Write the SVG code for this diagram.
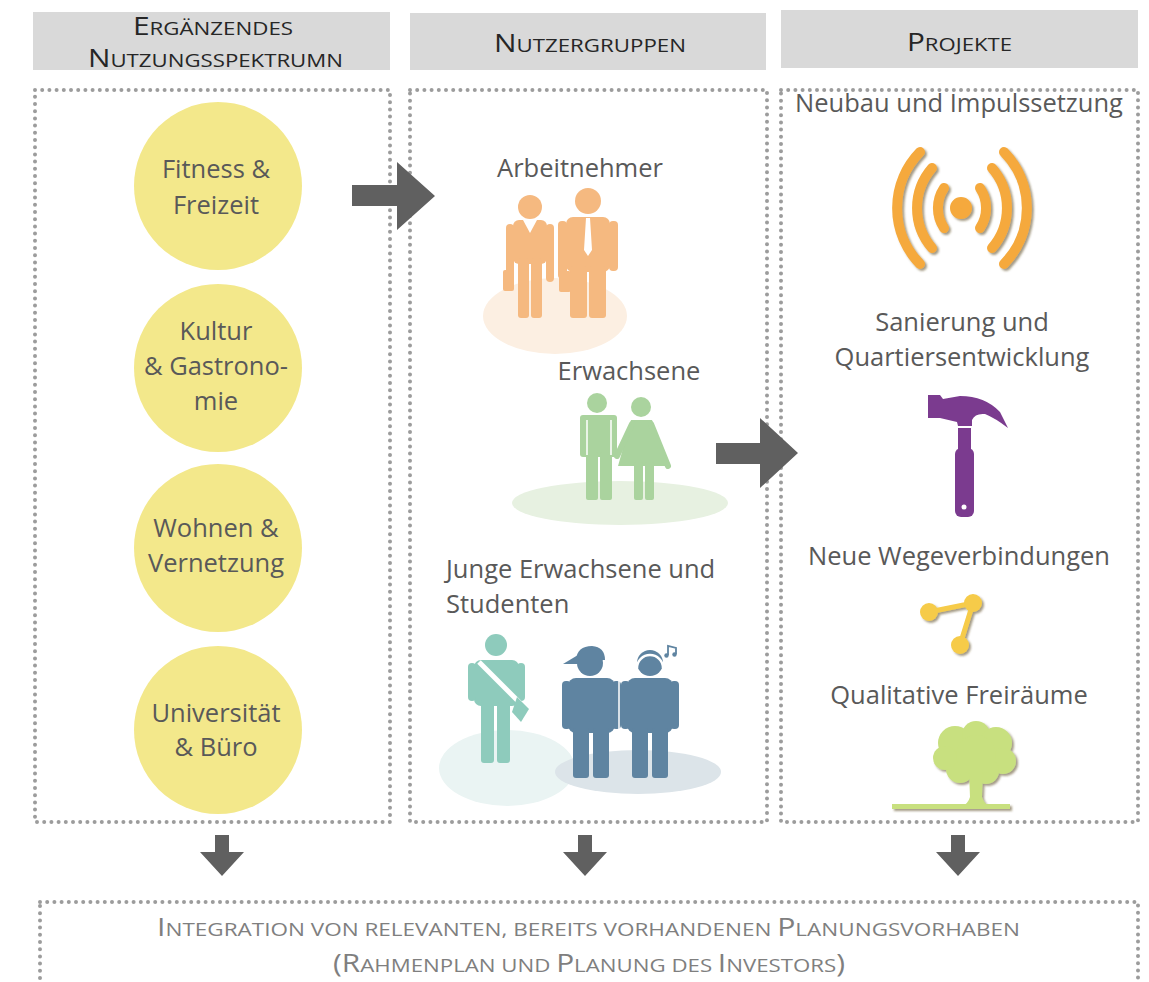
<svg xmlns="http://www.w3.org/2000/svg" width="1149" height="982" viewBox="0 0 1149 982">
  <defs>
    <style>
      .hdr { fill: #d9d9d9; }
      .dots { fill: none; stroke: #9c9c9c; stroke-width: 4; stroke-dasharray: 0 7.2; stroke-linecap: round; }
      .cap { font-family: "Open Sans", "Liberation Sans", sans-serif; fill: #262626; }
      .cap .b { font-size: 25.5px; }
      .cap .s { font-size: 19px; }
      .foot { font-family: "Open Sans", "Liberation Sans", sans-serif; fill: #7f7f7f; }
      .foot .b { font-size: 25.5px; }
      .foot .s { font-size: 19px; }
      .lbl { font-family: "Open Sans", "Liberation Sans", sans-serif; font-size: 25.5px; fill: #595959; }
      .mid { text-anchor: middle; }
      .circ { fill: #f3e88b; }
      .arrow { fill: #606060; }
    </style>
    <filter id="shadow" x="-10%" y="-10%" width="130%" height="130%">
      <feDropShadow dx="2" dy="2" stdDeviation="0.8" flood-color="#5a4a20" flood-opacity="0.55"/>
    </filter>
  </defs>

  <!-- column headers -->
  <g id="header-nutzungsspektrum">
    <rect class="hdr" x="33" y="12" width="357" height="58"/>
    <text class="cap" x="133" y="35" textLength="160" lengthAdjust="spacingAndGlyphs"><tspan class="b">E</tspan><tspan class="s">RGÄNZENDES</tspan></text>
    <text class="cap" x="88" y="67" textLength="255" lengthAdjust="spacingAndGlyphs"><tspan class="b">N</tspan><tspan class="s">UTZUNGSSPEKTRUMN</tspan></text>
  </g>
  <g id="header-nutzergruppen">
    <rect class="hdr" x="410" y="13" width="356" height="57"/>
    <text class="cap" x="494" y="52" textLength="192" lengthAdjust="spacingAndGlyphs"><tspan class="b">N</tspan><tspan class="s">UTZERGRUPPEN</tspan></text>
  </g>
  <g id="header-projekte">
    <rect class="hdr" x="781" y="10" width="357" height="58"/>
    <text class="cap" x="907" y="51" textLength="105" lengthAdjust="spacingAndGlyphs"><tspan class="b">P</tspan><tspan class="s">ROJEKTE</tspan></text>
  </g>

  <!-- dotted column frames -->
  <g id="frames">
    <rect class="dots" x="35" y="90" width="355" height="732"/>
    <rect class="dots" x="410" y="90" width="357" height="732"/>
    <rect class="dots" x="781" y="90" width="357" height="732"/>
  </g>

  <!-- column 1: usage circles -->
  <g id="fitness">
    <circle class="circ" cx="218" cy="186" r="84"/>
    <text class="lbl mid" x="216" y="178">Fitness &amp;</text>
    <text class="lbl mid" x="216" y="214">Freizeit</text>
  </g>
  <g id="kultur">
    <circle class="circ" cx="218" cy="368" r="84"/>
    <text class="lbl mid" x="216" y="340">Kultur</text>
    <text class="lbl mid" x="216" y="375">&amp; Gastrono-</text>
    <text class="lbl mid" x="216" y="410">mie</text>
  </g>
  <g id="wohnen">
    <circle class="circ" cx="218" cy="548" r="84"/>
    <text class="lbl mid" x="216" y="537">Wohnen &amp;</text>
    <text class="lbl mid" x="216" y="572">Vernetzung</text>
  </g>
  <g id="universitaet">
    <circle class="circ" cx="218" cy="730" r="84"/>
    <text class="lbl mid" x="216" y="722">Universität</text>
    <text class="lbl mid" x="216" y="756">&amp; Büro</text>
  </g>

  <!-- column 2: user groups -->
  <g id="arbeitnehmer">
    <text class="lbl mid" x="580" y="177">Arbeitnehmer</text>
    <ellipse cx="555" cy="316" rx="72" ry="38" fill="#fcefe2"/>
    <g fill="#f5b980">
      <!-- woman -->
      <circle cx="530" cy="207" r="12"/>
      <rect x="513" y="220" width="34" height="44" rx="6"/>
      <rect x="506" y="224" width="8" height="58" rx="4"/>
      <rect x="546" y="224" width="8" height="58" rx="4"/>
      <rect x="518" y="258" width="11" height="60" rx="3"/>
      <rect x="531" y="258" width="11" height="60" rx="3"/>
      <rect x="503" y="270" width="11" height="21" rx="2"/>
      <!-- man -->
      <circle cx="588" cy="201" r="13"/>
      <rect x="566" y="217" width="44" height="55" rx="7"/>
      <rect x="558" y="221" width="9" height="58" rx="4"/>
      <rect x="609" y="221" width="9" height="50" rx="4"/>
      <rect x="570" y="266" width="17" height="52" rx="3"/>
      <rect x="589" y="266" width="17" height="52" rx="3"/>
      <rect x="559" y="271" width="12" height="21" rx="2"/>
    </g>
    <polygon points="523,220 530,233 537,220" fill="#fff"/>
    <polygon points="586,218 590,218 592,250 588,256 584,250" fill="#fff"/>
  </g>

  <g id="erwachsene">
    <text class="lbl mid" x="629" y="380">Erwachsene</text>
    <ellipse cx="620" cy="503" rx="108" ry="22" fill="#e7f1e1"/>
    <g fill="#aad39e">
      <!-- man -->
      <circle cx="597" cy="403" r="10"/>
      <rect x="580" y="415" width="37" height="42" rx="3"/>
      <rect x="586" y="452" width="12" height="48" rx="2"/>
      <rect x="600" y="452" width="12" height="48" rx="2"/>
      <!-- woman -->
      <circle cx="641" cy="407" r="10"/>
      <polygon points="631,420 652,420 668,466 618,466"/>
      <path d="M632,424 L617,456" stroke="#aad39e" stroke-width="6" stroke-linecap="round"/>
      <path d="M651,424 L668,466" stroke="#aad39e" stroke-width="6" stroke-linecap="round"/>
      <rect x="634" y="462" width="9" height="38" rx="2"/>
      <rect x="645" y="462" width="9" height="38" rx="2"/>
    </g>
    <path d="M587,420 L587,455 M611,420 L611,455" stroke="#fff" stroke-width="1.5"/>
  </g>

  <g id="junge-erwachsene">
    <text class="lbl" x="446" y="578">Junge Erwachsene und</text>
    <text class="lbl" x="446" y="613">Studenten</text>
    <ellipse cx="507" cy="768" rx="68" ry="38" fill="#eaf4f3"/>
    <ellipse cx="638" cy="772" rx="83" ry="22" fill="#dce4e9"/>
    <!-- student with shoulder bag -->
    <g fill="#8ecbbc">
      <circle cx="496" cy="645" r="11"/>
      <rect x="474" y="660" width="45" height="46" rx="7"/>
      <rect x="468" y="663" width="8" height="38" rx="4"/>
      <rect x="517" y="663" width="8" height="38" rx="4"/>
      <rect x="481" y="700" width="13" height="63" rx="3"/>
      <rect x="497" y="700" width="13" height="63" rx="3"/>
    </g>
    <path d="M479,662 L521,704" stroke="#fff" stroke-width="5"/>
    <polygon points="517,697 529,709 521,722 512,712" fill="#8ecbbc"/>
    <!-- two young people -->
    <g fill="#5f84a1">
      <circle cx="590" cy="663" r="13"/>
      <path d="M576,660 Q577,646 592,646 Q605,647 605,660 Z"/>
      <path d="M578,655 L563,664 L579,664 Z"/>
      <rect x="568" y="678" width="47" height="55" rx="8"/>
      <rect x="562" y="681" width="9" height="48" rx="4"/>
      <rect x="612" y="681" width="9" height="48" rx="4"/>
      <rect x="573" y="728" width="16" height="50" rx="3"/>
      <rect x="593" y="728" width="16" height="50" rx="3"/>
      <circle cx="650" cy="663" r="13"/>
      <rect x="627" y="678" width="46" height="55" rx="8"/>
      <rect x="621" y="681" width="9" height="48" rx="4"/>
      <rect x="670" y="681" width="9" height="48" rx="4"/>
      <rect x="632" y="728" width="16" height="50" rx="3"/>
      <rect x="652" y="728" width="16" height="50" rx="3"/>
    </g>
    <path d="M619,681 L619,730" stroke="#fff" stroke-width="1.5"/>
    <path d="M637,668 A13,13 0 0 1 663,668" fill="none" stroke="#fff" stroke-width="2.5"/>
    <path d="M668,655 L668,646 L676,648 L676,654" fill="none" stroke="#5f84a1" stroke-width="1.8"/>
    <circle cx="666.5" cy="655.5" r="2.2" fill="#5f84a1"/>
    <circle cx="674.5" cy="654.5" r="2.2" fill="#5f84a1"/>
  </g>

  <!-- column 3: projects -->
  <g id="neubau">
    <text class="lbl mid" x="959" y="112">Neubau und Impulssetzung</text>
    <g fill="none" stroke="#f5a93c" stroke-width="10" stroke-linecap="round" filter="url(#shadow)">
      <path d="M920,152 A80,80 0 0 0 920,264"/>
      <path d="M932,168 A61,61 0 0 0 932,248"/>
      <path d="M944,188 A36,36 0 0 0 944,228"/>
      <path d="M1004,152 A80,80 0 0 1 1004,264"/>
      <path d="M992,168 A61,61 0 0 1 992,248"/>
      <path d="M980,188 A36,36 0 0 1 980,228"/>
      <circle cx="961" cy="208" r="6" fill="#f5a93c" stroke-width="10"/>
    </g>
  </g>

  <g id="sanierung">
    <text class="lbl mid" x="962" y="331">Sanierung und</text>
    <text class="lbl mid" x="962" y="366">Quartiersentwicklung</text>
    <g fill="#7b3b8f">
      <path d="M928,395 L940,395 L943,399 L960,396 Q985,396 1000,412 L1008,428 Q995,418 985,414 Q975,413 972,420 L972,426 L958,426 L957,422 L940,418 L928,418 Z"/>
      <rect x="958" y="428" width="13" height="24"/>
      <rect x="955" y="448" width="19" height="69" rx="6"/>
    </g>
    <circle cx="964" cy="507" r="2.5" fill="#fff"/>
  </g>

  <g id="wegeverbindungen">
    <text class="lbl mid" x="959" y="565">Neue Wegeverbindungen</text>
    <g fill="#f6cb48" filter="url(#shadow)">
      <path d="M929,612 L973,603 L960,645" fill="none" stroke="#f6cb48" stroke-width="5"/>
      <circle cx="929" cy="612" r="9"/>
      <circle cx="973" cy="603" r="9"/>
      <circle cx="960" cy="645" r="9"/>
    </g>
  </g>

  <g id="freiraeume">
    <text class="lbl mid" x="959" y="704">Qualitative Freiräume</text>
    <g fill="#c8e07f" filter="url(#shadow)">
      <circle cx="955" cy="743" r="17"/>
      <circle cx="976" cy="735" r="14"/>
      <circle cx="996" cy="743" r="16"/>
      <circle cx="1003" cy="761" r="13"/>
      <circle cx="986" cy="771" r="13"/>
      <circle cx="960" cy="769" r="14"/>
      <circle cx="945" cy="758" r="12"/>
      <circle cx="976" cy="755" r="20"/>
      <path d="M969,770 L983,770 L982,797 Q984,804 990,806 L962,806 Q968,804 970,797 Z"/>
      <rect x="892" y="804" width="118" height="5"/>
    </g>
  </g>

  <!-- connectors -->
  <g id="connectors">
    <polygon class="arrow" points="352,185 397,185 397,162 435,196 397,230 397,206 352,206"/>
    <polygon class="arrow" points="716,443 760,443 760,418 798,453 760,488 760,464 716,464"/>
    <polygon class="arrow" points="215,835 229,835 229,852 244,852 222,876 200,852 215,852"/>
    <polygon class="arrow" points="578,835 592,835 592,852 607,852 585,876 563,852 578,852"/>
    <polygon class="arrow" points="951,835 965,835 965,852 980,852 958,876 936,852 951,852"/>
  </g>

  <!-- bottom frame -->
  <g id="integration">
    <rect class="dots" x="40" y="902" width="1098" height="110"/>
    <text class="foot" x="157" y="936" textLength="863" lengthAdjust="spacingAndGlyphs"><tspan class="b">I</tspan><tspan class="s">NTEGRATION VON RELEVANTEN, BEREITS VORHANDENEN </tspan><tspan class="b">P</tspan><tspan class="s">LANUNGSVORHABEN</tspan></text>
    <text class="foot" x="333" y="972" textLength="512" lengthAdjust="spacingAndGlyphs"><tspan class="b">(R</tspan><tspan class="s">AHMENPLAN UND </tspan><tspan class="b">P</tspan><tspan class="s">LANUNG DES </tspan><tspan class="b">I</tspan><tspan class="s">NVESTORS</tspan><tspan class="b">)</tspan></text>
  </g>
</svg>
